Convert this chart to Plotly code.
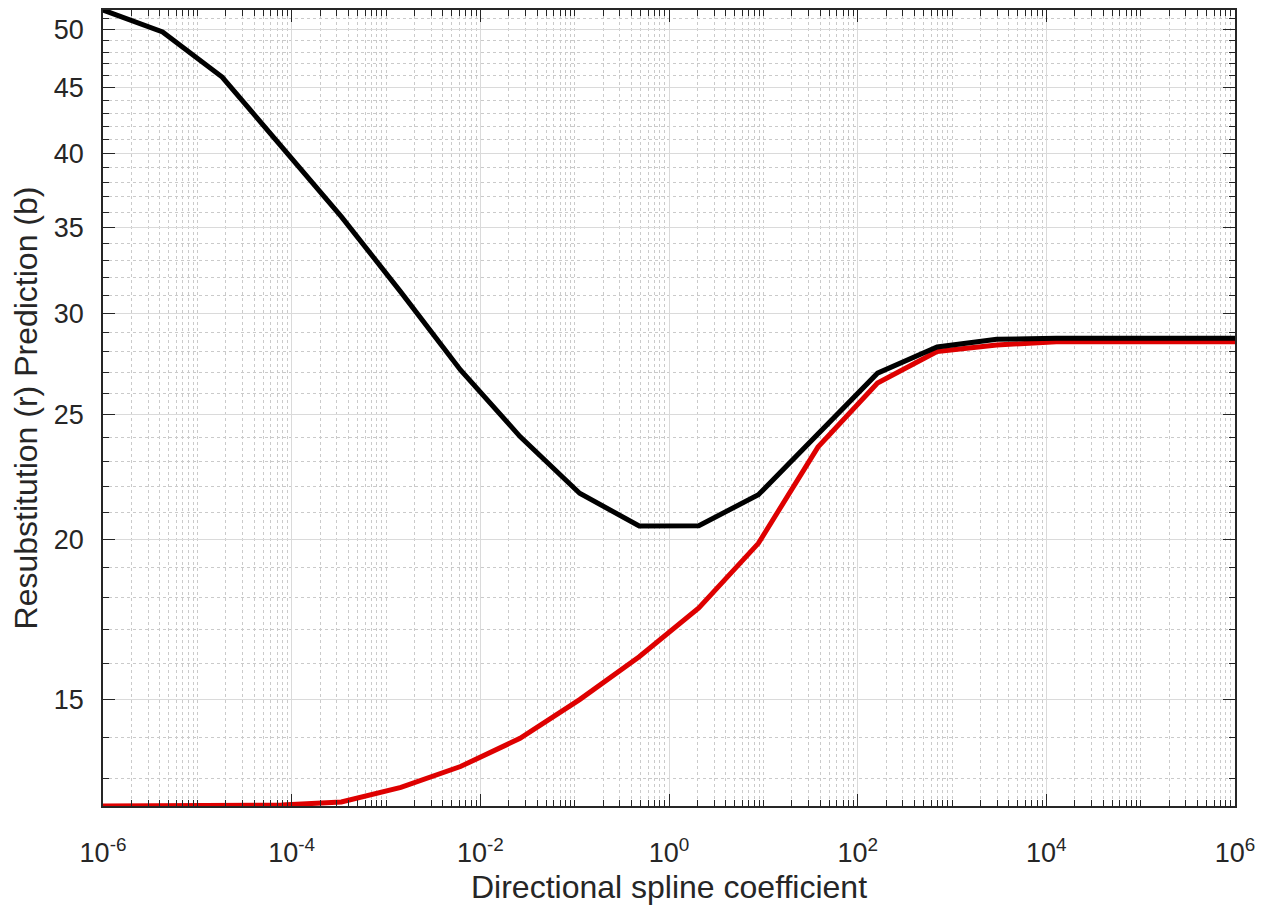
import numpy as np
import plotly.graph_objects as go

# x: directional spline coefficient (20 log-spaced samples from 1e-6 to 1e6)
x_exp_start = -6
x_exp_end = 6
n_points = 20
coef = np.logspace(x_exp_start, x_exp_end, n_points)

# black: prediction (b)
prediction_b = [51.77, 49.76, 45.89, 40.50, 35.71, 31.18, 27.11, 24.05, 21.72, 20.48,
                20.49, 21.66, 24.19, 26.95, 28.25, 28.64, 28.70, 28.70, 28.70, 28.70]
# red: resubstitution (r)
resub_r = [12.38, 12.38, 12.38, 12.40, 12.47, 12.80, 13.29, 13.98, 14.99, 16.19,
           17.67, 19.85, 23.60, 26.48, 28.02, 28.35, 28.52, 28.52, 28.52, 28.52]

x_tick_vals = [1e-6, 1e-4, 1e-2, 1e0, 1e2, 1e4, 1e6]
x_tick_text = ["10<sup>-6</sup>", "10<sup>-4</sup>", "10<sup>-2</sup>", "10<sup>0</sup>",
               "10<sup>2</sup>", "10<sup>4</sup>", "10<sup>6</sup>"]
y_tick_vals = [15, 20, 25, 30, 35, 40, 45, 50]
y_minor_vals = [13, 14, 16, 17, 18, 19, 21, 22, 23, 24, 26, 27, 28, 29, 31, 32, 33, 34,
                36, 37, 38, 39, 41, 42, 43, 44, 46, 47, 48, 49, 51]

x_title = "Directional spline coefficient"
y_title = "Resubstitution (r) Prediction (b)"

font_family = "Liberation Sans, Arial, Helvetica, sans-serif"
text_color = "#262626"
axis_color = "#262626"
tick_size = 27
title_size = 32

fig = go.Figure()
fig.add_trace(go.Scatter(x=coef, y=resub_r, mode="lines",
                         line=dict(color="rgb(222,0,0)", width=5), name="Resubstitution (r)"))
fig.add_trace(go.Scatter(x=coef, y=prediction_b, mode="lines",
                         line=dict(color="black", width=5), name="Prediction (b)"))

ymin = min(min(prediction_b), min(resub_r))
ymax = max(max(prediction_b), max(resub_r))

fig.update_layout(
    width=1262, height=901,
    margin=dict(l=95, r=35, t=2, b=103, autoexpand=False),
    paper_bgcolor="white", plot_bgcolor="white",
    showlegend=False,
    font=dict(family=font_family, color=text_color, size=tick_size),
)

fig.update_xaxes(
    type="log", range=[x_exp_start, x_exp_end],
    tickmode="array", tickvals=x_tick_vals, ticktext=x_tick_text,
    ticks="inside", ticklen=12, tickwidth=1, tickcolor=axis_color,
    showline=True, linecolor=axis_color, linewidth=1.5, mirror="ticks",
    showgrid=True, gridcolor="#dadada", gridwidth=1,
    zeroline=False, automargin=False,
    tickfont=dict(size=tick_size, color=text_color),
    ticklabelstandoff=22,
    title=dict(text=x_title, font=dict(size=title_size, color=text_color), standoff=8),
    minor=dict(dtick="D1", ticks="inside", ticklen=6, tickcolor=axis_color, tickwidth=1,
               showgrid=True, gridcolor="#cacaca", griddash="dot", gridwidth=1),
)

fig.update_yaxes(
    type="log", range=[np.log10(ymin), np.log10(ymax)],
    tickmode="array", tickvals=y_tick_vals,
    ticks="inside", ticklen=12, tickwidth=1, tickcolor=axis_color,
    showline=True, linecolor=axis_color, linewidth=1.5, mirror="ticks",
    showgrid=True, gridcolor="#dadada", gridwidth=1,
    zeroline=False, automargin=False,
    tickfont=dict(size=tick_size, color=text_color),
    ticklabelstandoff=12,
    title=dict(text=y_title, font=dict(size=title_size, color=text_color), standoff=8),
    minor=dict(tickmode="array", tickvals=y_minor_vals, ticks="inside", ticklen=6,
               tickcolor=axis_color, tickwidth=1,
               showgrid=True, gridcolor="#cacaca", griddash="dot", gridwidth=1),
)

fig.write_html("out.html")
